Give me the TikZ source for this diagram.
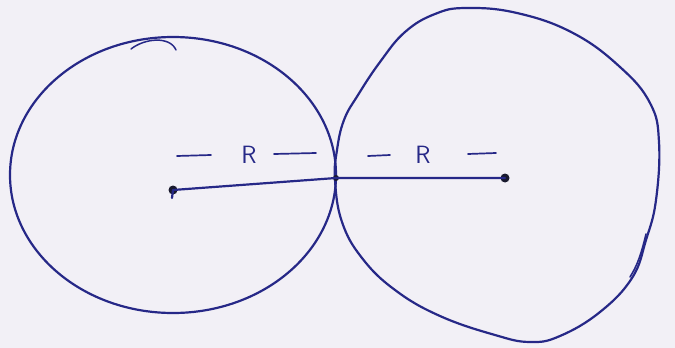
\documentclass[tikz,border=0pt]{standalone}
\usetikzlibrary{calc}
\definecolor{ink}{RGB}{38,40,135}
\definecolor{dotink}{RGB}{25,25,45}
\definecolor{paper}{RGB}{242,240,246}
\tikzset{
  pen/.style={draw=ink, line width=2.2pt, line cap=round, line join=round},
  blob/.style={circle, fill=dotink, inner sep=0pt, minimum size=9pt},
  lbl/.style={text=ink, font=\sffamily\fontsize{25}{25}\selectfont, inner sep=0pt},
}
\begin{document}
\begin{tikzpicture}[x=1pt,y=-1pt]
\fill[paper] (0,0) rectangle (675,348);
\useasboundingbox (0,0) rectangle (675,348);
% left circle
\draw[pen] (173,175) ellipse [x radius=163, y radius=138];
% small curl at top of left circle
\draw[pen, line width=1.5pt] (131,49) .. controls (145,38) and (170,36) .. (176,50);
% right circle (hand drawn)
\draw[pen] plot[smooth cycle, tension=0.7] coordinates {
 (335,180) (337,150) (344,120) (358,95) (380,62) (405,32) (435,14) (466,8) (517,13) (573,33)
 (620,67) (650,103) (659,142) (656,200) (646,240) (632,278) (600,312)
 (560,336) (530,342) (495,335) (440,316) (395,290) (362,258) (342,222)};
\draw[pen, line width=1.6pt] (646,234) .. controls (641,255) and (637,266) .. (630,277);
% centres and touching point
\node[blob] (c1) at (173,190) {};
\node[blob, minimum size=6pt] (t) at (336,178) {};
\node[blob] (c2) at (505,178) {};
\draw[pen] (c1.center) -- (t.center) -- (c2.center);
\draw[pen] (172,198) -- (c1.center);
% labels
\node[lbl] (r1) at (249,155) {R};
\node[lbl] (r2) at (423,155) {R};
\draw[pen, line width=1.7pt] (177,156) -- (211,155);
\draw[pen, line width=1.7pt] (274,154) -- (316,153);
\draw[pen, line width=1.7pt] (368,156) -- (390,155);
\draw[pen, line width=1.7pt] (468,154) -- (496,153);
\end{tikzpicture}
\end{document}
